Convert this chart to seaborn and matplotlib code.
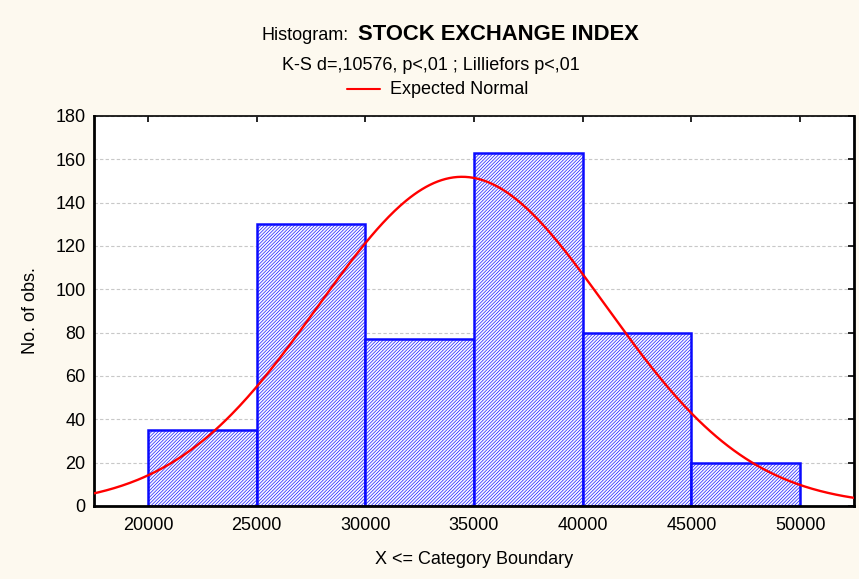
import numpy as np
import pandas as pd
import matplotlib
matplotlib.use("Agg")
import matplotlib.pyplot as plt
import seaborn as sns

# Histogram of the stock exchange index, bins of width 5000
bin_edges = [20000, 25000, 30000, 35000, 40000, 45000, 50000]
counts = [35, 130, 77, 163, 80, 20]
x_ticks = [20000, 25000, 30000, 35000, 40000, 45000, 50000]
y_ticks = [0, 20, 40, 60, 80, 100, 120, 140, 160, 180]

# Fitted normal distribution parameters
fit_mean = 34450.0
fit_sd = 6630.0
n_obs = sum(counts)
bin_width = 5000

sns.set_theme(style="white")
plt.rcParams["font.family"] = ["Liberation Sans", "DejaVu Sans"]
plt.rcParams["text.color"] = "black"
plt.rcParams["axes.labelcolor"] = "black"
plt.rcParams["hatch.linewidth"] = 0.45
plt.rcParams["hatch.color"] = "#2020f0"

bg = "#fdf9ef"
fig = plt.figure(figsize=(8.59, 5.79), dpi=100, facecolor=bg)
ax = fig.add_axes([94 / 859, 73 / 579, 760 / 859, 390 / 579])
ax.set_facecolor("white")

centers = [(a + b) / 2 for a, b in zip(bin_edges[:-1], bin_edges[1:])]
df = pd.DataFrame({"value": centers, "count": counts})
sns.histplot(data=df, x="value", weights="count", bins=bin_edges, ax=ax,
             color="#eef0ff", edgecolor="#0000ff", linewidth=1.8, alpha=1,
             zorder=2)
for p in ax.patches:
    p.set_hatch("//////////")
    p.set_facecolor("#f6f6ff")
    p.set_edgecolor("#0a0aff")

# Expected normal curve scaled to counts per bin
xs = np.linspace(17000, 53000, 400)
expected = n_obs * bin_width / (fit_sd * np.sqrt(2 * np.pi)) * np.exp(-0.5 * ((xs - fit_mean) / fit_sd) ** 2)
sns.lineplot(x=xs, y=expected, ax=ax, color="#ff0000", linewidth=1.7, zorder=3)

ax.set_xlim(17520, 52480)
ax.set_ylim(0, 180)
ax.set_xticks(x_ticks)
ax.set_yticks(y_ticks)
ax.set_xticklabels([str(t) for t in x_ticks])
ax.set_yticklabels([str(t) for t in y_ticks])
ax.yaxis.grid(True, linestyle=(0, (3, 2)), color="#c8c8c8", linewidth=0.8, zorder=0)
ax.set_axisbelow(True)
ax.tick_params(axis="both", which="both", direction="in", length=4, width=1.2,
               top=True, right=True, labelsize=13, colors="black", pad=8)
ax.tick_params(axis="y", pad=6)
for side, w in [("left", 2.0), ("bottom", 2.0), ("right", 2.0), ("top", 1.2)]:
    ax.spines[side].set_visible(True)
    ax.spines[side].set_color("black")
    ax.spines[side].set_linewidth(w)

ax.set_xlabel("X <= Category Boundary", fontsize=13, labelpad=12, color="black")
ax.set_ylabel("No. of obs.", fontsize=13, labelpad=12, color="black")

# Title block
fig.text(349 / 859, 1 - 35 / 579, "Histogram:", ha="right", va="center", fontsize=13)
fig.text(358 / 859, 1 - 35 / 579, "STOCK EXCHANGE INDEX", ha="left", va="center",
         fontsize=15.8, fontweight="bold")
fig.text(431 / 859, 1 - 65 / 579, "K-S d=,10576, p<,01 ; Lilliefors p<,01",
         ha="center", va="center", fontsize=13)
fig.add_artist(matplotlib.lines.Line2D([347 / 859, 380 / 859], [1 - 89 / 579, 1 - 89 / 579],
                                       color="#ff0000", linewidth=1.5,
                                       transform=fig.transFigure))
fig.text(390 / 859, 1 - 89 / 579, "Expected Normal", ha="left", va="center", fontsize=13)

fig.savefig("out.png", dpi=100, facecolor=bg)
